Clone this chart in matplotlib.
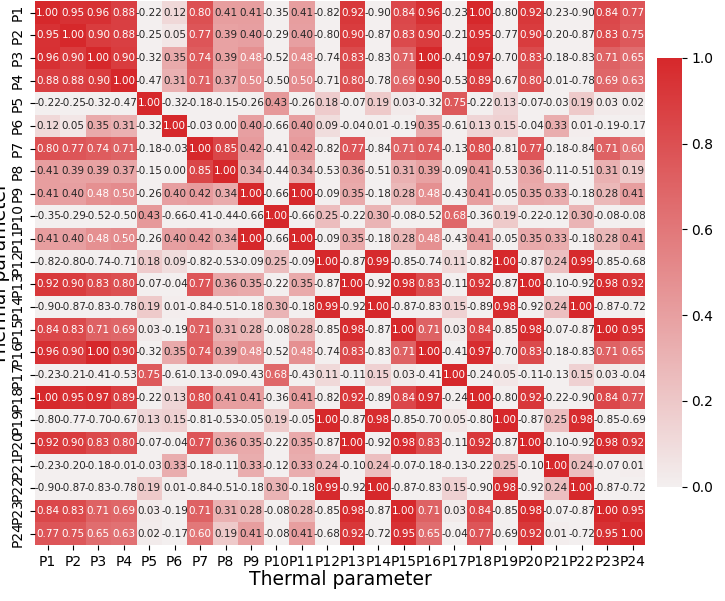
import numpy as np
import pandas as pd
import matplotlib
matplotlib.use("Agg")
import matplotlib.pyplot as plt
import seaborn as sns
from matplotlib.colors import LinearSegmentedColormap

labels = ["P%d" % i for i in range(1, 25)]

rows = [
    [1.00, 0.95, 0.96, 0.88, -0.22, 0.12, 0.80, 0.41, 0.41, -0.35, 0.41, -0.82, 0.92, -0.90, 0.84, 0.96, -0.23, 1.00, -0.80, 0.92, -0.23, -0.90, 0.84, 0.77],
    [0.95, 1.00, 0.90, 0.88, -0.25, 0.05, 0.77, 0.39, 0.40, -0.29, 0.40, -0.80, 0.90, -0.87, 0.83, 0.90, -0.21, 0.95, -0.77, 0.90, -0.20, -0.87, 0.83, 0.75],
    [0.96, 0.90, 1.00, 0.90, -0.32, 0.35, 0.74, 0.39, 0.48, -0.52, 0.48, -0.74, 0.83, -0.83, 0.71, 1.00, -0.41, 0.97, -0.70, 0.83, -0.18, -0.83, 0.71, 0.65],
    [0.88, 0.88, 0.90, 1.00, -0.47, 0.31, 0.71, 0.37, 0.50, -0.50, 0.50, -0.71, 0.80, -0.78, 0.69, 0.90, -0.53, 0.89, -0.67, 0.80, -0.01, -0.78, 0.69, 0.63],
    [-0.22, -0.25, -0.32, -0.47, 1.00, -0.32, -0.18, -0.15, -0.26, 0.43, -0.26, 0.18, -0.07, 0.19, 0.03, -0.32, 0.75, -0.22, 0.13, -0.07, -0.03, 0.19, 0.03, 0.02],
    [0.12, 0.05, 0.35, 0.31, -0.32, 1.00, -0.03, 0.00, 0.40, -0.66, 0.40, 0.09, -0.04, 0.01, -0.19, 0.35, -0.61, 0.13, 0.15, -0.04, 0.33, 0.01, -0.19, -0.17],
    [0.80, 0.77, 0.74, 0.71, -0.18, -0.03, 1.00, 0.85, 0.42, -0.41, 0.42, -0.82, 0.77, -0.84, 0.71, 0.74, -0.13, 0.80, -0.81, 0.77, -0.18, -0.84, 0.71, 0.60],
    [0.41, 0.39, 0.39, 0.37, -0.15, 0.00, 0.85, 1.00, 0.34, -0.44, 0.34, -0.53, 0.36, -0.51, 0.31, 0.39, -0.09, 0.41, -0.53, 0.36, -0.11, -0.51, 0.31, 0.19],
    [0.41, 0.40, 0.48, 0.50, -0.26, 0.40, 0.42, 0.34, 1.00, -0.66, 1.00, -0.09, 0.35, -0.18, 0.28, 0.48, -0.43, 0.41, -0.05, 0.35, 0.33, -0.18, 0.28, 0.41],
    [-0.35, -0.29, -0.52, -0.50, 0.43, -0.66, -0.41, -0.44, -0.66, 1.00, -0.66, 0.25, -0.22, 0.30, -0.08, -0.52, 0.68, -0.36, 0.19, -0.22, -0.12, 0.30, -0.08, -0.08],
    [0.41, 0.40, 0.48, 0.50, -0.26, 0.40, 0.42, 0.34, 1.00, -0.66, 1.00, -0.09, 0.35, -0.18, 0.28, 0.48, -0.43, 0.41, -0.05, 0.35, 0.33, -0.18, 0.28, 0.41],
    [-0.82, -0.80, -0.74, -0.71, 0.18, 0.09, -0.82, -0.53, -0.09, 0.25, -0.09, 1.00, -0.87, 0.99, -0.85, -0.74, 0.11, -0.82, 1.00, -0.87, 0.24, 0.99, -0.85, -0.68],
    [0.92, 0.90, 0.83, 0.80, -0.07, -0.04, 0.77, 0.36, 0.35, -0.22, 0.35, -0.87, 1.00, -0.92, 0.98, 0.83, -0.11, 0.92, -0.87, 1.00, -0.10, -0.92, 0.98, 0.92],
    [-0.90, -0.87, -0.83, -0.78, 0.19, 0.01, -0.84, -0.51, -0.18, 0.30, -0.18, 0.99, -0.92, 1.00, -0.87, -0.83, 0.15, -0.89, 0.98, -0.92, 0.24, 1.00, -0.87, -0.72],
    [0.84, 0.83, 0.71, 0.69, 0.03, -0.19, 0.71, 0.31, 0.28, -0.08, 0.28, -0.85, 0.98, -0.87, 1.00, 0.71, 0.03, 0.84, -0.85, 0.98, -0.07, -0.87, 1.00, 0.95],
    [0.96, 0.90, 1.00, 0.90, -0.32, 0.35, 0.74, 0.39, 0.48, -0.52, 0.48, -0.74, 0.83, -0.83, 0.71, 1.00, -0.41, 0.97, -0.70, 0.83, -0.18, -0.83, 0.71, 0.65],
    [-0.23, -0.21, -0.41, -0.53, 0.75, -0.61, -0.13, -0.09, -0.43, 0.68, -0.43, 0.11, -0.11, 0.15, 0.03, -0.41, 1.00, -0.24, 0.05, -0.11, -0.13, 0.15, 0.03, -0.04],
    [1.00, 0.95, 0.97, 0.89, -0.22, 0.13, 0.80, 0.41, 0.41, -0.36, 0.41, -0.82, 0.92, -0.89, 0.84, 0.97, -0.24, 1.00, -0.80, 0.92, -0.22, -0.90, 0.84, 0.77],
    [-0.80, -0.77, -0.70, -0.67, 0.13, 0.15, -0.81, -0.53, -0.05, 0.19, -0.05, 1.00, -0.87, 0.98, -0.85, -0.70, 0.05, -0.80, 1.00, -0.87, 0.25, 0.98, -0.85, -0.69],
    [0.92, 0.90, 0.83, 0.80, -0.07, -0.04, 0.77, 0.36, 0.35, -0.22, 0.35, -0.87, 1.00, -0.92, 0.98, 0.83, -0.11, 0.92, -0.87, 1.00, -0.10, -0.92, 0.98, 0.92],
    [-0.23, -0.20, -0.18, -0.01, -0.03, 0.33, -0.18, -0.11, 0.33, -0.12, 0.33, 0.24, -0.10, 0.24, -0.07, -0.18, -0.13, -0.22, 0.25, -0.10, 1.00, 0.24, -0.07, 0.01],
    [-0.90, -0.87, -0.83, -0.78, 0.19, 0.01, -0.84, -0.51, -0.18, 0.30, -0.18, 0.99, -0.92, 1.00, -0.87, -0.83, 0.15, -0.90, 0.98, -0.92, 0.24, 1.00, -0.87, -0.72],
    [0.84, 0.83, 0.71, 0.69, 0.03, -0.19, 0.71, 0.31, 0.28, -0.08, 0.28, -0.85, 0.98, -0.87, 1.00, 0.71, 0.03, 0.84, -0.85, 0.98, -0.07, -0.87, 1.00, 0.95],
    [0.77, 0.75, 0.65, 0.63, 0.02, -0.17, 0.60, 0.19, 0.41, -0.08, 0.41, -0.68, 0.92, -0.72, 0.95, 0.65, -0.04, 0.77, -0.69, 0.92, 0.01, -0.72, 0.95, 1.00],
]

corr = pd.DataFrame(rows, index=labels, columns=labels)

cmap = LinearSegmentedColormap.from_list("redmap", ["#f3efef", "#d6282b"])

fig = plt.figure(figsize=(7.25, 6.01), dpi=100)
ax = fig.add_axes([0.048, 0.093, 0.842, 0.905])
cax = fig.add_axes([0.906, 0.19, 0.034, 0.714])

sns.heatmap(corr, ax=ax, cbar_ax=cax, cmap=cmap, vmin=0, vmax=1,
            annot=True, fmt=".2f", annot_kws={"size": 7.5})

ax.set_xlabel("Thermal parameter", fontsize=13.5, labelpad=1)
ax.set_ylabel("Thermal parameter", fontsize=13.5, labelpad=1)
ax.tick_params(axis="x", labelsize=10, rotation=0)
ax.tick_params(axis="y", labelsize=10, rotation=90)
for t in ax.get_yticklabels():
    t.set_va("center")
cax.tick_params(labelsize=10)

fig.savefig("out.png", dpi=100)
